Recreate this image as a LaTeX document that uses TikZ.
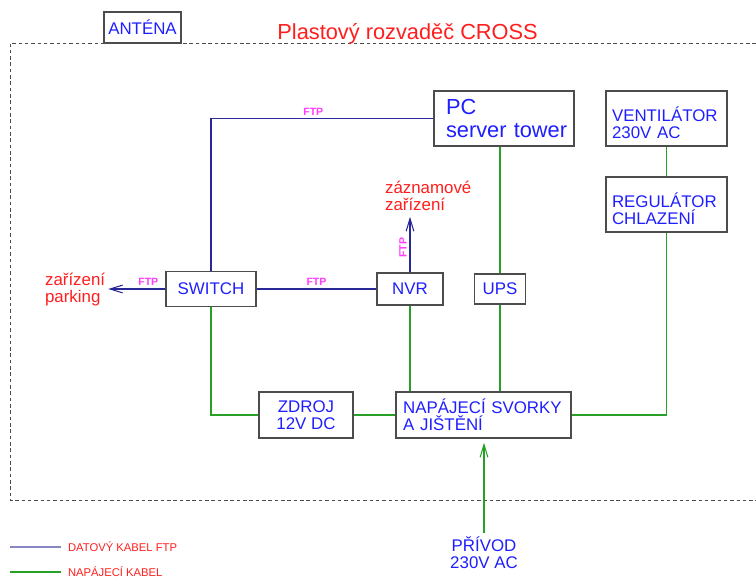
\documentclass[tikz,border=0pt]{standalone}
\usepackage{fontspec}
\setmainfont{Liberation Sans}
\usetikzlibrary{arrows.meta, positioning, calc}

\definecolor{txtblue}{RGB}{30,30,255}
\definecolor{txtred}{RGB}{255,30,30}
\definecolor{ftppink}{RGB}{255,60,255}
\definecolor{datablue}{RGB}{40,40,150}
\definecolor{powergreen}{RGB}{40,160,40}
\definecolor{legblue}{RGB}{135,135,195}

\begin{document}
\begin{tikzpicture}[
    box/.style={draw=black!70, line width=0.8pt, inner sep=0pt, align=center, text=txtblue, font=\fontsize{12}{12.2}\selectfont},
    boxl/.style={box, align=left},
    note/.style={align=left, inner sep=2pt, text=txtred, font=\fontsize{12}{12.2}\selectfont},
    ftp/.style={font=\fontsize{7.5}{8}\selectfont\bfseries, text=ftppink, inner sep=2pt},
    data/.style={draw=datablue, line width=0.75pt},
    power/.style={draw=powergreen, line width=0.75pt},
    arr/.style={-{Straight Barb[length=9pt, width=5.5pt]}},
    frame/.style={black!70, line width=0.5pt, dash pattern=on 2.5pt off 2pt},
    legtxt/.style={anchor=west, inner sep=2pt, text=txtred, font=\fontsize{8}{9}\selectfont},
]
\useasboundingbox (0,0) rectangle (18.9,-14.45);

% ── Enclosure ──
\draw[frame] (18.9,-1.075) -- (0.25,-1.075) -- (0.25,-12.5) -- (18.9,-12.5);
\node[box, minimum width=1.925cm, minimum height=0.775cm] (antena) at (3.5625,-0.6875) {ANTÉNA};
\node[anchor=base, text=txtred, font=\fontsize{15.5}{18}\selectfont] (title) at (10.19,-0.975) {Plastový rozvaděč CROSS};

% ── Devices ──
\node[boxl, minimum height=1.375cm, text width=2.9cm, inner xsep=0.3cm, font=\fontsize{15.5}{16.4}\selectfont] (PC) at (12.6,-2.9625) {PC\\server~tower};
\node[boxl, minimum height=1.375cm, text width=2.725cm, inner xsep=0.15cm] (vent) at (16.6625,-2.9625) {\rule{0pt}{17pt}VENTILÁTOR\\230V AC};
\node[boxl, minimum height=1.375cm, text width=2.725cm, inner xsep=0.15cm] (reg) at (16.6625,-5.1125) {\rule{0pt}{17pt}REGULÁTOR\\CHLAZENÍ};
\node[box, minimum width=2.25cm, minimum height=0.875cm] (switch) at (5.275,-7.225) {SWITCH};
\node[box, minimum width=1.65cm, minimum height=0.8cm] (NVR) at (10.25,-7.225) {NVR};
\node[box, minimum width=1.275cm, minimum height=0.75cm] (UPS) at (12.5,-7.225) {UPS};
\node[box, minimum width=2.35cm, minimum height=1.15cm] (zdroj) at (7.65,-10.375) {ZDROJ\\12V DC};
\node[boxl, minimum height=1.15cm, text width=4.015cm, inner xsep=0.18cm] (svorky) at (12.0875,-10.375) {NAPÁJECÍ~SVORKY\\A JIŠTĚNÍ};

% ── Outside ends ──
\node[note, anchor=west] (parking) at (1.05,-7.2375) {zařízení\\parking};
\node[note, anchor=west] (zaznam) at (9.55,-4.9) {záznamové\\zařízení};
\node[box, draw=none, inner sep=2pt] (privod) at (12.1,-13.8125) {PŘÍVOD\\230V AC};

% ── Data cables ──
\draw[data] (PC.west) -| node[ftp, above, pos=0.27] {FTP} (switch.north);
\draw[data] (switch.east) -- node[ftp, above] {FTP} (NVR.west);
\draw[data, arr] (switch.west) -- node[ftp, above, pos=0.3] {FTP} (switch.west -| parking.east);
\draw[data, arr, shorten >=2pt] (NVR.north) -- node[ftp, rotate=90, above, pos=0.42] {FTP} (NVR.north |- zaznam.south);

% ── Power cables ──
\draw[power] (PC.south -| UPS) -- (UPS.north);
\draw[power] (UPS.south) -- (UPS.south |- svorky.north);
\draw[power] (NVR.south) -- (NVR.south |- svorky.north);
\draw[power] (switch.south) |- (zdroj.west);
\draw[power] (zdroj.east) -- (svorky.west);
\draw[power] (vent.south) -- (reg.north);
\draw[power] (reg.south) |- (svorky.east);
\draw[power, arr, shorten >=3pt] (privod.north) -- (privod.north |- svorky.south);

% ── Legend ──
\coordinate (lgA) at (0.25,-13.675);
\coordinate (lgB) at (0.25,-14.3);
\node[legtxt] (legdata) at (1.625,-13.675) {DATOVÝ KABEL FTP};
\node[legtxt] (legpower) at (1.625,-14.3) {NAPÁJECÍ KABEL};
\draw[draw=legblue, line width=0.75pt] (lgA) -- ($(legdata.west)+(-0.1,0)$);
\draw[power] (lgB) -- ($(legpower.west)+(-0.1,0)$);

\end{tikzpicture}
\end{document}
